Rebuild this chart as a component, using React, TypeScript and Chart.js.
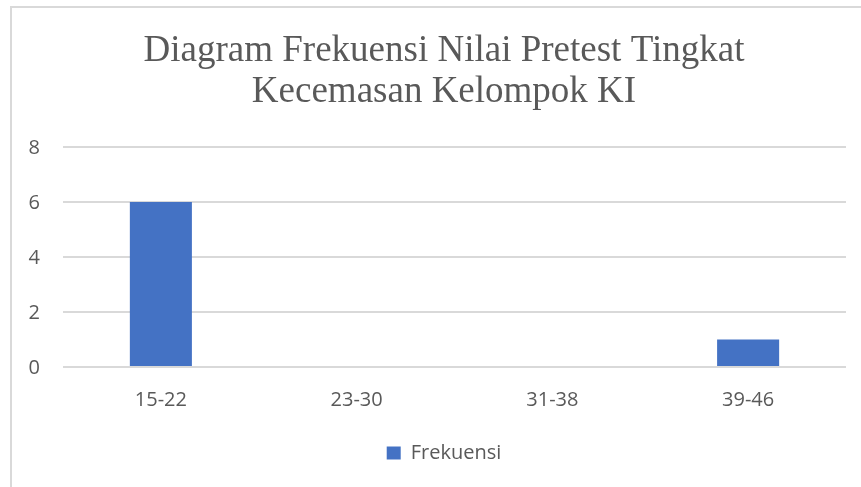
import React, { useEffect, useRef } from "react";
import { Chart, registerables } from "chart.js";

Chart.register(...registerables);

const categories = ["15-22", "23-30", "31-38", "39-46"];
const frekuensi = [6, 0, 0, 1];
const seriesLabel = "Frekuensi";
const titleLines = ["Diagram Frekuensi Nilai Pretest Tingkat", "Kecemasan Kelompok KI"];
const yMin = 0;
const yMax = 8;
const yStep = 2;

export default function App() {
  const canvasRef = useRef<HTMLCanvasElement | null>(null);

  useEffect(() => {
    const canvas = canvasRef.current;
    if (!canvas) return;
    const tickFont = { family: "'Open Sans', sans-serif", size: 20 };
    const chart = new Chart(canvas, {
      type: "bar",
      data: {
        labels: categories,
        datasets: [
          {
            label: seriesLabel,
            data: frekuensi,
            backgroundColor: "#4472C4",
            borderWidth: 0,
            categoryPercentage: 1,
            barPercentage: 0.317,
          },
        ],
      },
      options: {
        responsive: false,
        animation: false,
        layout: { padding: { left: 28, right: 1, top: 0, bottom: 14 } },
        plugins: {
          title: {
            display: true,
            text: titleLines,
            color: "#595959",
            font: { family: "'Liberation Serif', serif", size: 37, weight: "normal", lineHeight: 1.108 },
            padding: { top: 31, bottom: 34 },
          },
          legend: {
            display: true,
            position: "bottom",
            labels: {
              boxWidth: 14,
              boxHeight: 13,
              color: "#595959",
              font: tickFont,
              padding: 10,
            },
          },
          tooltip: { enabled: false },
        },
        scales: {
          x: {
            grid: { display: false, drawTicks: false },
            border: { display: false },
            ticks: { color: "#595959", font: tickFont, padding: 21 },
          },
          y: {
            min: yMin,
            max: yMax,
            ticks: { stepSize: yStep, color: "#595959", font: tickFont, padding: 23, labelOffset: 1 },
            grid: { color: "#d9d9d9", lineWidth: 2, drawTicks: false },
            border: { display: false },
            afterFit: (scale: any) => {
              scale.width = 35;
            },
          },
          yRight: {
            type: "linear",
            position: "right",
            display: true,
            grid: { display: false, drawTicks: false },
            border: { display: false },
            ticks: { display: false },
            afterFit: (scale: any) => {
              scale.width = 14;
            },
          },
        },
      },
    });
    return () => chart.destroy();
  }, []);

  return (
    <div
      style={{
        position: "fixed",
        left: 0,
        top: 0,
        width: 861,
        height: 487,
        overflow: "hidden",
        background: "#ffffff",
      }}
    >
      <div
        style={{
          position: "absolute",
          left: 10,
          top: 6,
          width: 900,
          height: 600,
          border: "2px solid #d9d9d9",
          boxSizing: "border-box",
        }}
      />
      <canvas
        ref={canvasRef}
        width={861}
        height={487}
        style={{ position: "absolute", left: 0, top: 0, width: 861, height: 487 }}
      />
    </div>
  );
}
